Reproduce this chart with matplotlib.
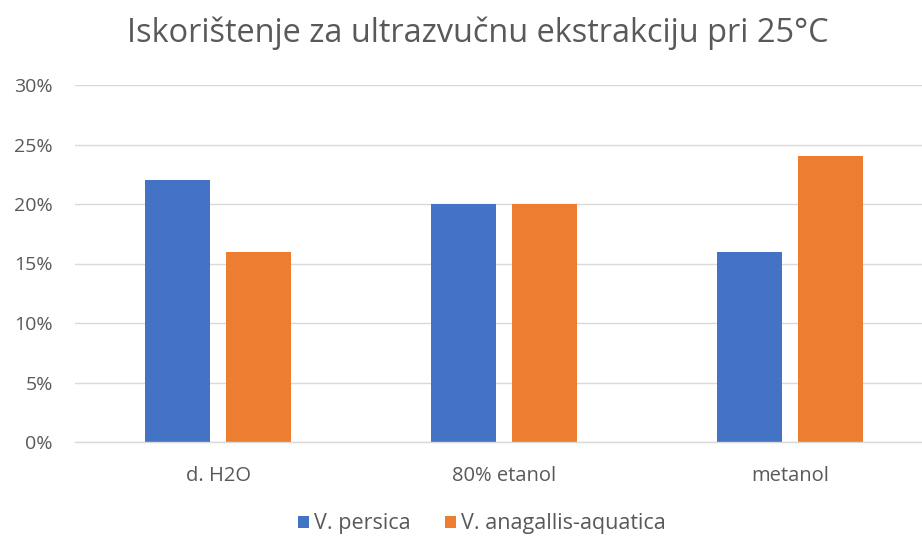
import matplotlib
matplotlib.use("Agg")
import matplotlib.pyplot as plt
import numpy as np
from matplotlib.ticker import PercentFormatter

categories = ["d. H2O", "80% etanol", "metanol"]
series_names = ["V. persica", "V. anagallis-aquatica"]
persica = [0.22, 0.20, 0.16]
anagallis = [0.16, 0.20, 0.24]
yticks = [0, 0.05, 0.10, 0.15, 0.20, 0.25, 0.30]
colors = ["#4472C4", "#ED7D31"]
title = "Iskorištenje za ultrazvučnu ekstrakciju pri 25°C"

plt.rcParams['font.family'] = ['Open Sans', 'DejaVu Sans']
W, H = 922, 539
fig = plt.figure(figsize=(W/100, H/100), dpi=100)
ax = fig.add_axes([75/W, 1-442/H, (933-75)/W, (442-85)/H])

x = np.arange(len(categories))
bw = 0.227
off = 0.143
ax.bar(x-off, persica, bw, color=colors[0], label=series_names[0], zorder=3)
ax.bar(x+off, anagallis, bw, color=colors[1], label=series_names[1], zorder=3)

ax.set_xlim(-0.5, 2.5)
ax.set_ylim(0, 0.30)
ax.set_yticks(yticks)
ax.yaxis.set_major_formatter(PercentFormatter(1.0, decimals=0))
ax.set_xticks(x)
ax.set_xticklabels(categories)
ax.grid(axis='y', color='#D9D9D9', linewidth=1, zorder=0)
for s in ['top', 'right', 'left']:
    ax.spines[s].set_visible(False)
ax.spines['bottom'].set_color('#D9D9D9')
ax.spines['bottom'].set_linewidth(1)
ax.spines['bottom'].set_zorder(4)
ax.tick_params(axis='both', length=0, labelsize=14, labelcolor='#595959')
ax.tick_params(axis='x', labelsize=14.5, pad=17)
ax.tick_params(axis='y', pad=16)

fig.text(478/W, 1-33/H, title, ha='center', va='center', fontsize=23.4, color='#595959')

handles, labels = ax.get_legend_handles_labels()
fig.legend(handles, labels, loc='center', bbox_to_anchor=(482/W, 1-524/H), ncol=2,
           frameon=False, fontsize=15.5, labelcolor='#595959', handlelength=0.5,
           handleheight=0.5, handletextpad=0.25, columnspacing=1.6)

fig.savefig("out.png", dpi=100)
